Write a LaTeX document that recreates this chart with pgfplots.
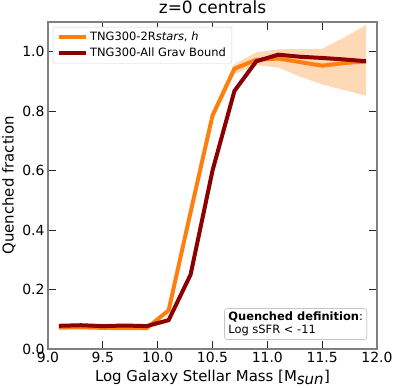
\documentclass[border=0pt]{standalone}
\usepackage{pgfplots}
\pgfplotsset{compat=1.18}
\usepackage{fontspec}
\setmainfont{DejaVu Sans}
\usetikzlibrary{calc}

\definecolor{lineorange}{RGB}{255,127,14}
\definecolor{bandorange}{RGB}{255,216,182}
\definecolor{darkred}{RGB}{139,0,0}

\begin{document}
\begin{tikzpicture}
\begin{axis}[
    scale only axis,
    width=329bp, height=327bp,
    xmin=9.0, xmax=12.0,
    ymin=0.0, ymax=1.1,
    xtick={9.0,9.5,10.0,10.5,11.0,11.5,12.0},
    ytick={0.0,0.2,0.4,0.6,0.8,1.0},
    xticklabel style={/pgf/number format/.cd, fixed, fixed zerofill, precision=1},
    yticklabel style={/pgf/number format/.cd, fixed, fixed zerofill, precision=1},
    /pgf/number format/assume math mode=true,
    tick label style={font=\fontsize{14}{16}\selectfont},
    tick align=inside,
    major tick length=8bp,
    tick style={black!85, line width=0.9bp},
    axis line style={draw=gray, line width=1.4bp},
    xlabel={Log Galaxy Stellar Mass [M$_{\textit{sun}}$]},
    ylabel={Quenched fraction},
    label style={font=\fontsize{15}{17}\selectfont},
    title={z=0 centrals},
    title style={font=\fontsize{17}{19}\selectfont, at={(0.5,1)}, anchor=south, yshift=0bp, inner sep=2bp},
    legend style={
        at={(0.015,0.985)}, anchor=north west,
        font=\fontsize{11.5}{13}\selectfont,
        draw=gray!35, rounded corners=2bp,
        row sep=2bp, inner xsep=4bp, inner ysep=3bp,
        cells={anchor=west},
    },
    legend image code/.code={\draw[#1] (0bp,0bp) -- (27bp,0bp);},
]

% shaded uncertainty band for TNG300-2R (upper edge, then lower edge reversed)
\addplot[draw=none, fill=bandorange, forget plot] coordinates {
    (9.1,0.076) (9.3,0.077) (9.5,0.075) (9.7,0.074) (9.9,0.075)
    (10.1,0.138) (10.3,0.480) (10.5,0.800) (10.7,0.958) (10.9,0.998)
    (11.1,1.008) (11.3,1.009) (11.5,1.010) (11.7,1.048) (11.9,1.090)
    (11.9,0.852) (11.7,0.871) (11.5,0.890) (11.3,0.916) (11.1,0.947)
    (10.9,0.955) (10.7,0.925) (10.5,0.770) (10.3,0.440) (10.1,0.122)
    (9.9,0.067) (9.7,0.066) (9.5,0.067) (9.3,0.069) (9.1,0.068)
} -- cycle;

\addplot[lineorange, line width=4bp] coordinates {
    (9.1,0.072) (9.3,0.073) (9.5,0.071) (9.7,0.070) (9.9,0.070)
    (10.1,0.130) (10.3,0.460) (10.5,0.785) (10.7,0.943) (10.9,0.973)
    (11.1,0.977) (11.3,0.965) (11.5,0.953) (11.7,0.962) (11.9,0.967)
};
\addlegendentry{TNG300-2R\textit{stars}, \textit{h}}

\addplot[darkred, line width=4bp] coordinates {
    (9.1,0.078) (9.3,0.080) (9.5,0.077) (9.7,0.079) (9.9,0.077)
    (10.1,0.097) (10.3,0.250) (10.5,0.600) (10.7,0.868) (10.9,0.968)
    (11.1,0.990) (11.3,0.983) (11.5,0.979) (11.7,0.974) (11.9,0.968)
};
\addlegendentry{TNG300-All Grav Bound}

\node[draw=gray!70, rounded corners=3bp, fill=white, align=left,
      anchor=south east, inner xsep=4bp, inner ysep=3.5bp,
      font=\fontsize{11.5}{13}\selectfont]
    at (rel axis cs:0.97,0.028)
    {\textbf{Quenched definition}:\\Log sSFR < -11};
\end{axis}
\pgfresetboundingbox
\useasboundingbox ($(current axis.south west)+(-48bp,-39bp)$) rectangle ($(current axis.north east)+(22bp,22bp)$);
\end{tikzpicture}
\end{document}
